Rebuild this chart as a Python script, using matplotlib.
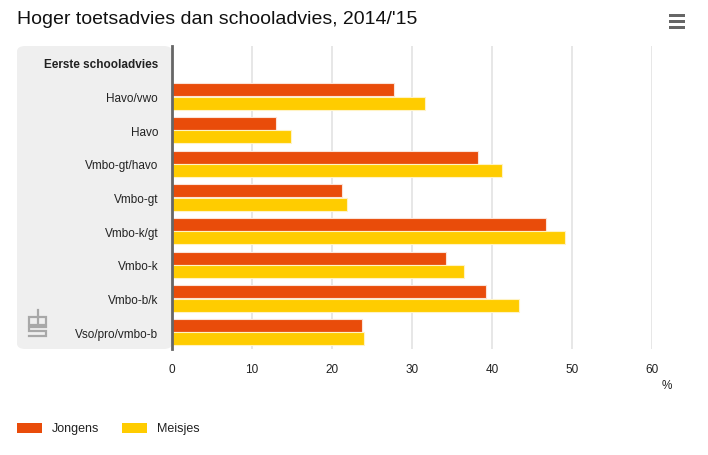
import matplotlib.pyplot as plt
from matplotlib.patches import FancyBboxPatch, Rectangle

plt.rcParams['font.family'] = ['Liberation Sans Narrow', 'Liberation Sans', 'DejaVu Sans']

categories = ["Havo/vwo", "Havo", "Vmbo-gt/havo", "Vmbo-gt", "Vmbo-k/gt",
              "Vmbo-k", "Vmbo-b/k", "Vso/pro/vmbo-b"]
jongens = [27.8, 13.0, 38.3, 21.3, 46.7, 34.2, 39.2, 23.8]
meisjes = [31.6, 14.9, 41.2, 21.9, 49.1, 36.5, 43.4, 24.0]
xticks = [0, 10, 20, 30, 40, 50, 60]

orange = "#e94c0a"
yellow = "#ffcc00"

W, H = 708, 456
fig = plt.figure(figsize=(W / 100, H / 100), dpi=100)

# grey label panel behind category names
panel = FancyBboxPatch((17 / W, 1 - 350 / H), (172 - 17) / W, 303 / H,
                       boxstyle="round,pad=0,rounding_size=0.012",
                       transform=fig.transFigure, facecolor="#efefef",
                       edgecolor="none", zorder=-1)
fig.patches.append(panel)

ax = fig.add_axes([172 / W, 1 - 350 / H, 480 / W, 303 / H])
ax.set_facecolor("none")
ax.set_zorder(1)

ypos = list(range(1, len(categories) + 1))
bh = 0.39
ax.barh([y - 0.2 for y in ypos], jongens, height=bh, color=orange,
        edgecolor="#fbe3d8", linewidth=0.8, zorder=3)
ax.barh([y + 0.2 for y in ypos], meisjes, height=bh, color=yellow,
        edgecolor="#fff3c4", linewidth=0.8, zorder=3)

ax.set_xlim(0, 60)
ax.set_ylim(8.5, -0.5)
ax.set_xticks(xticks)
ax.set_xticklabels([str(t) for t in xticks], fontsize=8.5, color="#222222")
ax.tick_params(axis="x", length=0, pad=10)
ax.set_yticks([0] + ypos)
ax.set_yticklabels(["Eerste schooladvies"] + categories, fontsize=8.5, color="#222222")
ax.get_yticklabels()[0].set_fontweight("bold")
ax.tick_params(axis="y", length=0, pad=10)
ax.grid(axis="x", color="#e3e3e3", linewidth=1.2, zorder=0)
for s in ["top", "right", "bottom"]:
    ax.spines[s].set_visible(False)
ax.spines["left"].set_color("#666666")
ax.spines["left"].set_linewidth(2)
ax.spines["left"].set_zorder(5)

fig.text(667 / W, 1 - 386 / H, "%", fontsize=8.5, ha="center", va="center", color="#222222")

fig.text(17 / W, 1 - 20 / H, "Hoger toetsadvies dan schooladvies, 2014/'15",
         fontsize=14, ha="left", va="center", color="#111111")

# menu icon
for dy in (16, 22, 28):
    fig.patches.append(Rectangle((669 / W, 1 - (dy + 1.5) / H), 16 / W, 3 / H,
                                 transform=fig.transFigure, facecolor="#666666",
                                 edgecolor="none"))

# cbs logo, drawn in pixel coords
lax = fig.add_axes([26 / W, 1 - 340 / H, 24 / W, 32 / H])
lax.set_xlim(26, 50)
lax.set_ylim(340, 308)
lax.axis("off")
logo_paths = [
    ([37, 29, 29, 37], [318, 318, 326, 326]),
    ([38, 38, 46, 46, 38], [311, 326, 326, 318, 318]),
    ([46, 29, 29, 46, 46, 29], [328, 328, 332, 332, 337, 337]),
]
for xs, ys in logo_paths:
    lax.plot(xs, ys, color="#a8a8a8", linewidth=1.6, solid_joinstyle="miter")

# legend
for x0, col, lab in [(17, orange, "Jongens"), (122, yellow, "Meisjes")]:
    fig.patches.append(Rectangle((x0 / W, 1 - 434 / H), 25 / W, 10 / H,
                                 transform=fig.transFigure, facecolor=col,
                                 edgecolor="none"))
    fig.text((x0 + 35) / W, 1 - 429 / H, lab, fontsize=9, ha="left",
             va="center", color="#222222")

fig.savefig("out.png", dpi=100)
